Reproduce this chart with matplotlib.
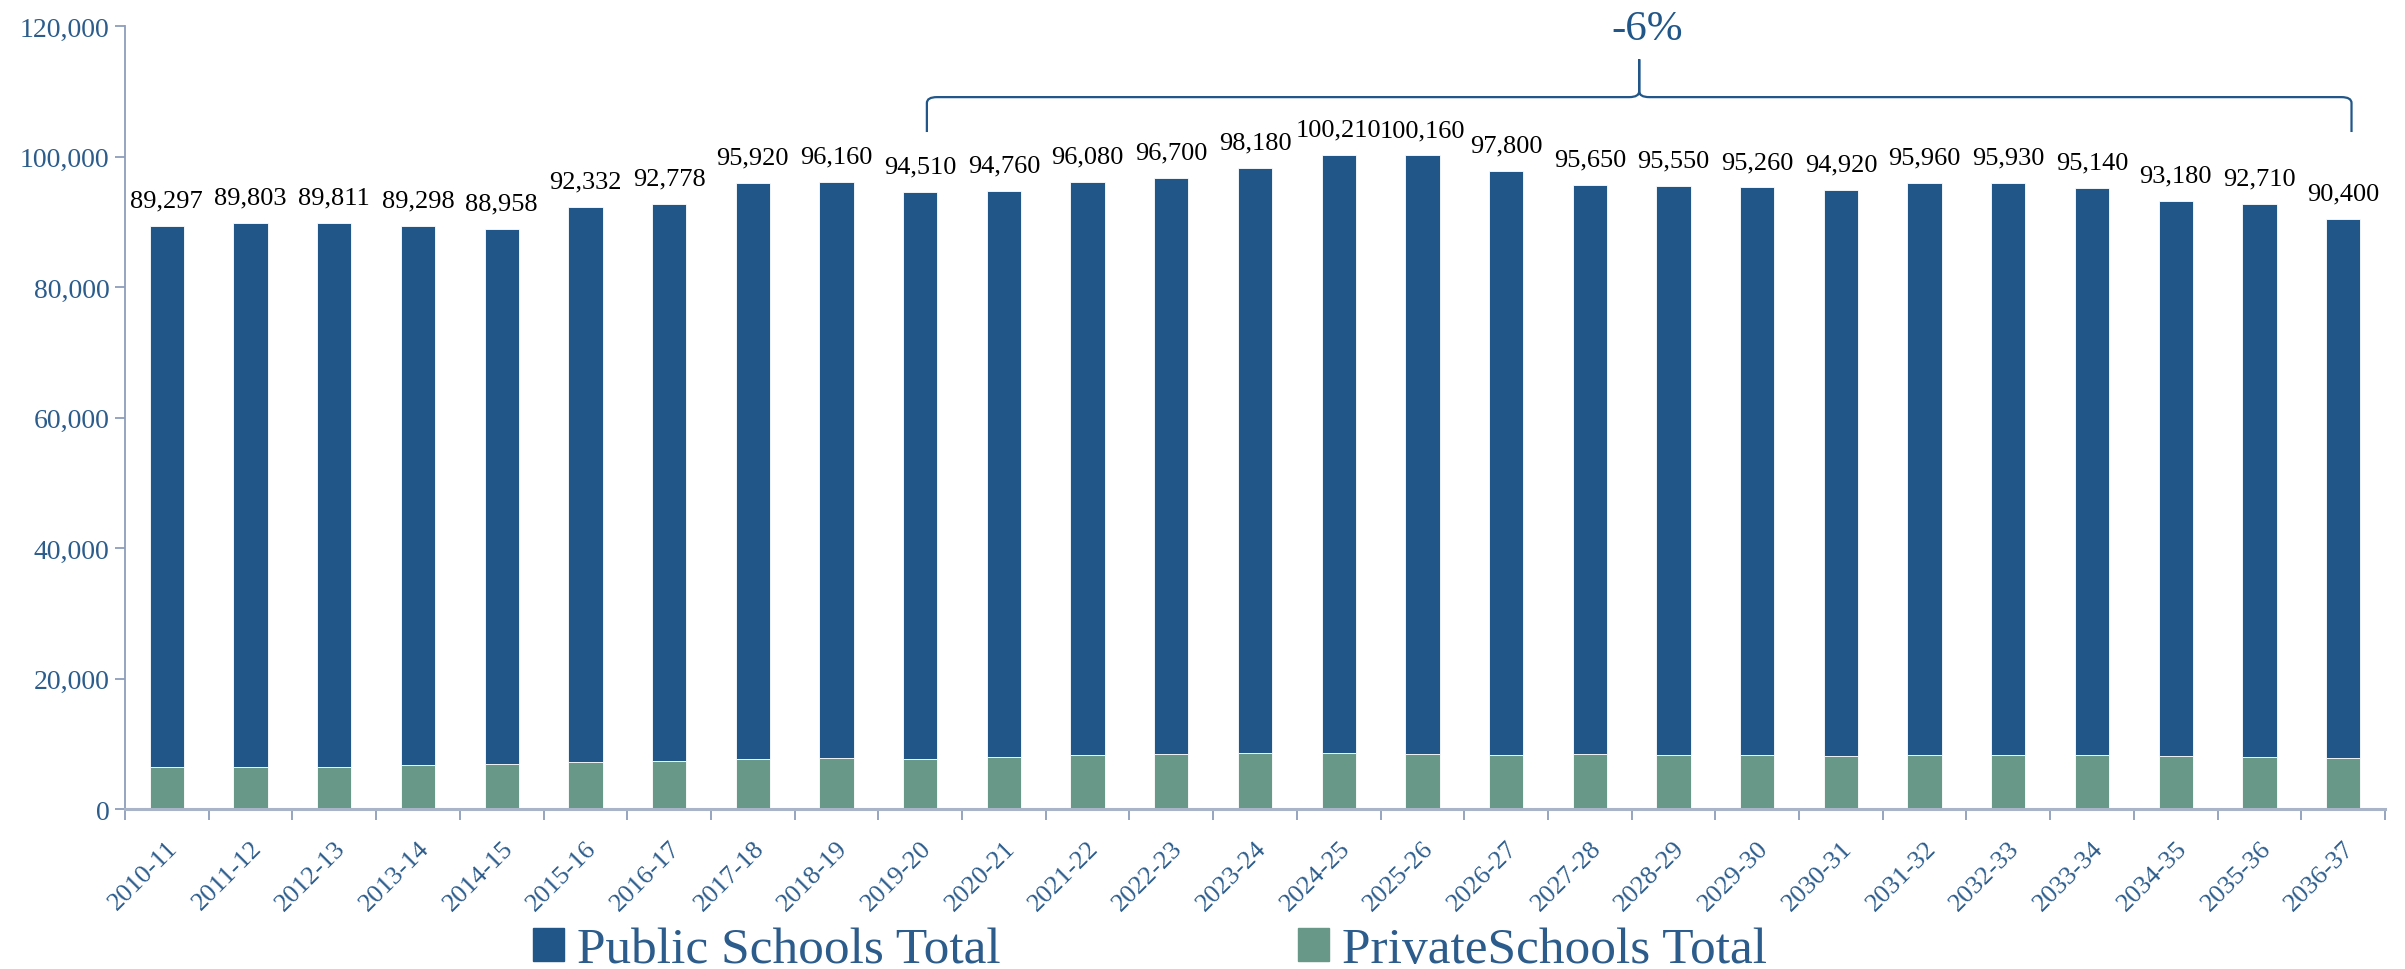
import matplotlib
matplotlib.use("Agg")
import matplotlib.pyplot as plt
import numpy as np
from matplotlib.path import Path
from matplotlib.patches import PathPatch, Patch

categories = ["2010-11", "2011-12", "2012-13", "2013-14", "2014-15", "2015-16", "2016-17",
              "2017-18", "2018-19", "2019-20", "2020-21", "2021-22", "2022-23", "2023-24",
              "2024-25", "2025-26", "2026-27", "2027-28", "2028-29", "2029-30", "2030-31",
              "2031-32", "2032-33", "2033-34", "2034-35", "2035-36", "2036-37"]
totals = [89297, 89803, 89811, 89298, 88958, 92332, 92778, 95920, 96160, 94510, 94760,
          96080, 96700, 98180, 100210, 100160, 97800, 95650, 95550, 95260, 94920, 95960,
          95930, 95140, 93180, 92710, 90400]
private = [6380, 6480, 6480, 6730, 6940, 7190, 7350, 7650, 7800, 7600, 7960, 8260, 8370,
           8520, 8520, 8370, 8260, 8370, 8260, 8210, 8110, 8210, 8260, 8210, 8060, 8010, 7750]
public = [t - p for t, p in zip(totals, private)]
change_label = "-6%"
yticks = [0, 20000, 40000, 60000, 80000, 100000, 120000]

BLUE = "#215689"
GREEN = "#689887"
TXT = "#2B5C8C"
AX = "#8C9DBB"
FONT = "Liberation Serif"
plt.rcParams['font.family'] = [FONT, 'DejaVu Serif']

fig = plt.figure(figsize=(24.05, 9.70), dpi=100)
ax = fig.add_axes([125/2405, 1-810/970, (2385-125)/2405, (810-27)/970])
x = np.arange(len(categories))
w = 0.41
ax.bar(x, private, w, color=GREEN, edgecolor="white", linewidth=0.6, zorder=2)
ax.bar(x, public, w, bottom=private, color=BLUE, edgecolor="white", linewidth=0.6, zorder=2)

for xi, t in zip(x, totals):
    ax.annotate(f"{t:,}", (xi, t), xytext=(0, 14), textcoords="offset points",
                ha="center", va="baseline", fontsize=19, color="black")

ax.set_xlim(-0.5, len(categories) - 0.5)
ax.set_ylim(0, 120000)
ax.set_yticks(yticks)
ax.set_yticklabels([f"{v:,}" for v in yticks], fontsize=20, color=TXT)
ax.set_xticks(x)
ax.set_xticklabels(categories, rotation=45, ha="right", rotation_mode="anchor",
                   fontsize=19, color=TXT)
ax.set_xticks(np.arange(len(categories) + 1) - 0.5, minor=True)
ax.tick_params(axis="x", which="major", length=0, pad=20)
ax.tick_params(axis="x", which="minor", length=8, color=AX, width=1.3)
ax.tick_params(axis="y", length=7, color=AX, width=1.3, pad=4)
for s in ["top", "right"]:
    ax.spines[s].set_visible(False)
ax.spines["left"].set_color(AX)
ax.spines["left"].set_linewidth(1.3)
ax.spines["bottom"].set_color("#A9B4C8")
ax.spines["bottom"].set_linewidth(2.2)

# brace
x0, x1 = 9.08, 26.1
xm = (x0 + x1) / 2
yb, yl, yp = 103750, 109100, 114900
dx, r = 0.12, 900
verts = [(x0, yb), (x0, yl - r), (x0, yl), (x0 + dx, yl), (xm - dx, yl), (xm, yl), (xm, yl + r),
         (xm, yp),
         (xm, yp), (xm, yl + r), (xm, yl), (xm + dx, yl), (x1 - dx, yl), (x1, yl), (x1, yl - r),
         (x1, yb)]
codes = [Path.MOVETO, Path.LINETO, Path.CURVE3, Path.CURVE3, Path.LINETO, Path.CURVE3, Path.CURVE3,
         Path.LINETO,
         Path.MOVETO, Path.LINETO, Path.CURVE3, Path.CURVE3, Path.LINETO, Path.CURVE3, Path.CURVE3,
         Path.LINETO]
ax.add_patch(PathPatch(Path(verts, codes), fill=False, edgecolor=BLUE, linewidth=1.6,
                       clip_on=False, zorder=3))
ax.text(xm + 0.1, 118000, change_label, ha="center", va="baseline", fontsize=31, color=BLUE)

handles = [Patch(color=BLUE, label="Public Schools Total"),
           Patch(color=GREEN, label="PrivateSchools Total")]
leg = fig.legend(handles=handles, loc="upper left", bbox_to_anchor=(533/2405, 1-928/970),
                 ncol=2, frameon=False, fontsize=37, handlelength=0.6, handleheight=0.6,
                 handletextpad=0.25, columnspacing=5.8, borderpad=0, borderaxespad=0)
for t in leg.get_texts():
    t.set_color(TXT)

fig.savefig("out.png", dpi=100)
